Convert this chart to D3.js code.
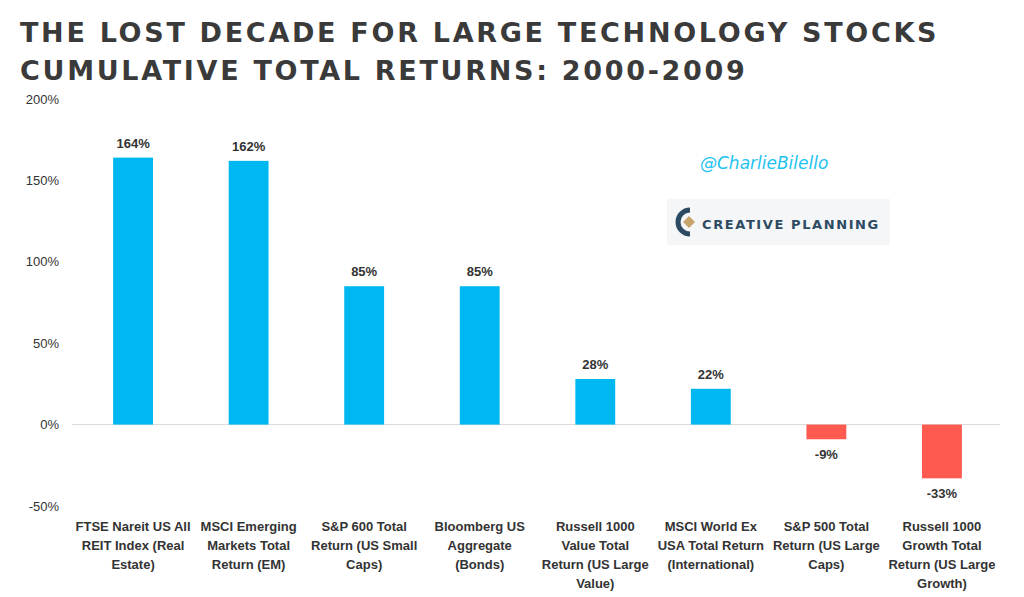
<!DOCTYPE html>
<html><head><meta charset="utf-8">
<script src="https://cdn.jsdelivr.net/npm/d3@7"></script>
<style>body{margin:0;background:#fff}</style>
</head><body>
<svg width="1024" height="597"></svg>
<script>
"use strict";

const categories = [
    ["FTSE Nareit US All", "REIT Index (Real", "Estate)"],
    ["MSCI Emerging", "Markets Total", "Return (EM)"],
    ["S&P 600 Total", "Return (US Small", "Caps)"],
    ["Bloomberg US", "Aggregate", "(Bonds)"],
    ["Russell 1000", "Value Total", "Return (US Large", "Value)"],
    ["MSCI World Ex", "USA Total Return", "(International)"],
    ["S&P 500 Total", "Return (US Large", "Caps)"],
    ["Russell 1000", "Growth Total", "Return (US Large", "Growth)"]
];
const returns = [164, 162, 85, 85, 28, 22, -9, -33];
const yTicks = [-50, 0, 50, 100, 150, 200];

const svg = d3.select("svg");

svg.selectAll(".title")
    .data(["THE LOST DECADE FOR LARGE TECHNOLOGY STOCKS", "CUMULATIVE TOTAL RETURNS: 2000-2009"])
    .enter().append("text")
    .attr("x", 20)
    .attr("y", (d, i) => 42 + i * 38)
    .attr("font-family", "DejaVu Sans")
    .attr("font-weight", "bold")
    .attr("font-size", 27)
    .attr("letter-spacing", 2.7)
    .attr("fill", "#3a3a3a")
    .text(d => d);

const x = d3.scaleBand()
    .domain(d3.range(categories.length))
    .range([75, 1000])
    .paddingInner(0.655)
    .paddingOuter(0.33);

const y = d3.scaleLinear()
    .domain([-50, 200])
    .range([506, 99]);

const yAxis = svg.append("g")
    .attr("transform", "translate(62,0)")
    .call(d3.axisLeft(y).tickValues(yTicks).tickFormat(d => d + "%").tickSize(0));
yAxis.select(".domain").remove();
yAxis.selectAll("text")
    .attr("font-family", "Liberation Sans")
    .attr("font-size", 13)
    .attr("fill", "#333");

svg.append("line")
    .attr("x1", 72).attr("x2", 1000)
    .attr("y1", y(0)).attr("y2", y(0))
    .attr("stroke", "#d9d9d9");

svg.selectAll(".bar")
    .data(returns)
    .enter().append("rect")
    .attr("x", (d, i) => x(i))
    .attr("width", x.bandwidth())
    .attr("y", d => y(Math.max(0, d)))
    .attr("height", d => Math.abs(y(d) - y(0)))
    .attr("fill", d => d >= 0 ? "#00b8f1" : "#ff5a4f");

svg.selectAll(".val")
    .data(returns)
    .enter().append("text")
    .attr("x", (d, i) => x(i) + x.bandwidth() / 2)
    .attr("y", d => d >= 0 ? y(d) - 10 : y(d) + 20)
    .attr("text-anchor", "middle")
    .attr("font-family", "Liberation Sans")
    .attr("font-weight", "bold")
    .attr("font-size", 13)
    .attr("fill", "#333")
    .text(d => d + "%");

const cat = svg.selectAll(".cat")
    .data(categories)
    .enter().append("text")
    .attr("text-anchor", "middle")
    .attr("font-family", "Liberation Sans")
    .attr("font-weight", "bold")
    .attr("font-size", 13)
    .attr("fill", "#333");
cat.selectAll("tspan")
    .data((d, i) => d.map(t => [t, i]))
    .enter().append("tspan")
    .attr("x", d => x(d[1]) + x.bandwidth() / 2)
    .attr("y", (d, j) => 531 + j * 19)
    .text(d => d[0]);

svg.append("text")
    .attr("x", 700).attr("y", 169)
    .attr("font-family", "DejaVu Sans")
    .attr("font-style", "italic")
    .attr("font-size", 17)
    .attr("fill", "#1fc3ef")
    .text("@CharlieBilello");

const logo = svg.append("g");
logo.append("rect")
    .attr("x", 667).attr("y", 199).attr("width", 223).attr("height", 46)
    .attr("fill", "#f5f6f7");
logo.append("path")
    .attr("d", "M690,210 A12,12 0 1,0 690,234")
    .attr("stroke", "#2d4a63").attr("stroke-width", 5).attr("fill", "none");
logo.append("path")
    .attr("d", "M683,222 l6,-6 l6,6 l-6,6z")
    .attr("fill", "#c9a46a");
logo.append("text")
    .attr("x", 702).attr("y", 229)
    .attr("font-family", "DejaVu Sans")
    .attr("font-weight", "bold")
    .attr("font-size", 13)
    .attr("letter-spacing", 1.6)
    .attr("fill", "#2d4a63")
    .text("CREATIVE PLANNING");
</script>
</body></html>
